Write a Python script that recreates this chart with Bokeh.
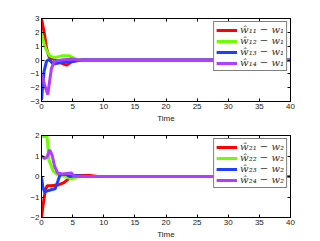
from bokeh.plotting import figure
from bokeh.models import LinearAxis, Legend, LegendItem, FixedTicker, Range1d
from bokeh.layouts import column
from bokeh.embed import file_html
from bokeh.resources import INLINE

# ---- data ----
x_ticks = [0, 5, 10, 15, 20, 25, 30, 35, 40]
y_ticks_top = [-3, -2, -1, 0, 1, 2, 3]
y_ticks_bot = [-2, -1, 0, 1, 2]
colors = ["#ff0000", "#6cff00", "#1f3fff", "#b23cff"]

labels_top = ["ŵ₁₁ − w₁", "ŵ₁₂ − w₁", "ŵ₁₃ − w₁", "ŵ₁₄ − w₁"]
labels_bot = ["ŵ₂₁ − w₂", "ŵ₂₂ − w₂", "ŵ₂₃ − w₂", "ŵ₂₄ − w₂"]

# top panel: w_1 errors
t11 = [0, 0.5, 0.8, 1.2, 1.6, 2.0, 2.7, 3.5, 4.0, 4.5, 5.1, 6.0, 8.0, 40]
e11 = [3.0, 1.8, 0.85, 0.24, 0.12, 0.05, -0.12, -0.28, -0.37, -0.24, -0.03, 0.0, 0.0, 0.0]
t12 = [0, 0.4, 0.8, 1.3, 2.1, 3.2, 4.5, 5.3, 6.1, 40]
e12 = [1.95, 1.2, 0.7, 0.3, 0.17, 0.3, 0.3, 0.12, 0.0, 0.0]
t13 = [0, 0.4, 0.8, 1.2, 1.9, 2.7, 3.7, 5.3, 6.4, 40]
e13 = [-2.9, -0.85, -0.1, 0.05, -0.3, -0.22, -0.15, -0.1, 0.0, 0.0]
t14 = [0, 0.5, 1.0, 1.6, 2.1, 3.2, 4.8, 6.0, 40]
e14 = [-1.0, -1.8, -2.5, -0.6, -0.1, 0.0, 0.08, 0.0, 0.0]

# bottom panel: w_2 errors
t21 = [0, 0.3, 0.6, 0.9, 1.5, 2.6, 3.6, 4.2, 4.8, 6.0, 7.8, 9.0, 40]
e21 = [-2.0, -1.3, -0.7, -0.45, -0.45, -0.42, -0.3, -0.15, 0.0, 0.05, 0.05, 0.0, 0.0]
t22 = [0, 0.4, 0.9, 1.2, 1.9, 2.6, 3.9, 4.8, 5.6, 7.0, 40]
e22 = [2.0, 1.95, 1.95, 0.8, 0.25, 0.08, 0.0, -0.13, -0.03, 0.0, 0.0]
t23 = [0, 0.2, 0.5, 1.0, 1.5, 2.2, 2.6, 3.0, 4.0, 4.5, 5.5, 7.0, 40]
e23 = [0.0, -0.5, -0.75, -0.7, -0.65, -0.6, -0.25, 0.1, 0.1, 0.0, 0.05, 0.0, 0.0]
t24 = [0, 0.5, 0.9, 1.3, 1.7, 2.1, 2.6, 3.4, 4.8, 5.3, 7.0, 40]
e24 = [1.0, 0.88, 0.95, 1.3, 1.05, 0.5, 0.17, 0.12, 0.17, 0.0, 0.0, 0.0]

FONT = "Liberation Sans"


def make_panel(yr, yticks, series, labels, b_top, f_h, b_bot):
    p = figure(frame_width=249, frame_height=f_h,
               x_range=Range1d(0, 40), y_range=Range1d(*yr),
               output_backend="svg", toolbar_location=None,
               min_border_left=41, min_border_right=30,
               min_border_top=b_top, min_border_bottom=b_bot)
    p.grid.visible = False
    p.outline_line_color = "black"
    p.background_fill_color = "white"

    renderers = []
    for (t, e), c in zip(series, colors):
        r = p.line(t, e, line_color=c, line_width=3)
        renderers.append(r)

    for ax in [p.xaxis[0], p.yaxis[0]]:
        ax.major_tick_in = 3
        ax.major_tick_out = 0
        ax.minor_tick_in = 0
        ax.minor_tick_out = 0
        ax.axis_line_color = "black"
        ax.major_tick_line_color = "black"
        ax.major_label_text_font = FONT
        ax.major_label_text_font_size = "8px"
        ax.major_label_text_color = "#222222"
        ax.major_label_standoff = 2
    p.xaxis[0].ticker = FixedTicker(ticks=x_ticks)
    p.yaxis[0].ticker = FixedTicker(ticks=yticks)
    p.xaxis[0].axis_label = "Time"
    p.xaxis[0].axis_label_text_font = FONT
    p.xaxis[0].axis_label_text_font_size = "8px"
    p.xaxis[0].axis_label_text_font_style = "normal"
    p.xaxis[0].axis_label_text_color = "#222222"
    p.xaxis[0].axis_label_standoff = 2

    # mirrored ticks on top and right (minor ticks only: no labels)
    top = LinearAxis(ticker=FixedTicker(ticks=[], minor_ticks=x_ticks))
    right = LinearAxis(ticker=FixedTicker(ticks=[], minor_ticks=yticks))
    for ax in [top, right]:
        ax.major_tick_in = 0
        ax.major_tick_out = 0
        ax.minor_tick_in = 3
        ax.minor_tick_out = 0
        ax.major_label_standoff = 0
        ax.axis_line_color = "black"
        ax.minor_tick_line_color = "black"
    p.add_layout(top, "above")
    p.add_layout(right, "right")

    legend = Legend(items=[LegendItem(label=l, renderers=[r]) for l, r in zip(labels, renderers)],
                    location="top_right")
    legend.margin = 3
    legend.padding = 2
    legend.spacing = 0
    legend.glyph_width = 21
    legend.glyph_height = 10
    legend.label_height = 10
    legend.label_standoff = 3
    legend.label_text_font = "DejaVu Serif"
    legend.label_text_font_style = "italic"
    legend.label_text_font_size = "10px"
    legend.label_text_color = "#333333"
    legend.border_line_color = "black"
    legend.border_line_width = 1
    legend.background_fill_alpha = 1
    p.add_layout(legend)
    return p


p1 = make_panel((-3, 3), y_ticks_top,
                [(t11, e11), (t12, e12), (t13, e13), (t14, e14)],
                labels_top, 18, 83, 22)
p2 = make_panel((-2, 2), y_ticks_bot,
                [(t21, e21), (t22, e22), (t23, e23), (t24, e24)],
                labels_bot, 10, 82, 25)

layout = column(p1, p2)
open("out.html", "w").write(file_html(layout, INLINE))
